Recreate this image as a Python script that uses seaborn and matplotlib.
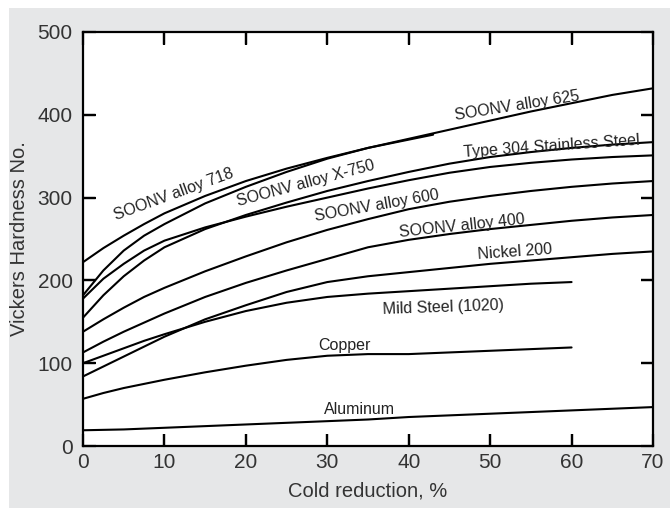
import matplotlib
matplotlib.use("Agg")
import matplotlib.pyplot as plt
from matplotlib.patches import Rectangle
from matplotlib.lines import Line2D
import seaborn as sns
import pandas as pd

sns.set_theme(style="ticks")
plt.rcParams['font.family'] = ['Liberation Sans', 'DejaVu Sans']
plt.rcParams.update({
    "axes.axisbelow": False,
    "xtick.direction": "in", "ytick.direction": "in",
    "xtick.color": "black", "ytick.color": "black",
    "xtick.labelcolor": "#333333", "ytick.labelcolor": "#333333",
})

# ---- data ----
x_full = [0, 2.5, 5, 7.5, 10, 15, 20, 25, 30, 35, 40, 45, 50, 55, 60, 65, 70]
x_60 = [0, 2.5, 5, 7.5, 10, 15, 20, 25, 30, 35, 40, 45, 50, 55, 60]
x_718 = [0, 2.5, 5, 7.5, 10, 15, 20, 25, 30, 35, 40, 43]

alloy_718 = [222, 239, 254, 268, 281, 302, 320, 335, 348, 360, 370, 376]
alloy_625 = [182, 212, 236, 254, 268, 293, 313, 331, 347, 360, 371, 382, 393, 404, 414, 424, 432]
alloy_x750 = [178, 202, 220, 236, 248, 264, 277, 289, 300, 311, 321, 330, 337, 342, 346, 349, 351]
ss_304 = [155, 182, 205, 224, 240, 262, 279, 294, 308, 320, 331, 341, 349, 355, 360, 364, 367]
alloy_600 = [138, 153, 167, 180, 191, 211, 229, 246, 261, 274, 286, 295, 302, 308, 313, 317, 320]
alloy_400 = [113, 126, 138, 149, 160, 180, 197, 212, 226, 240, 249, 256, 262, 267, 272, 276, 279]
nickel_200 = [84, 96, 108, 120, 132, 153, 170, 186, 198, 205, 210, 215, 220, 224, 228, 232, 235]
mild_steel = [100, 109, 118, 127, 135, 150, 163, 173, 180, 184, 187, 190, 193, 196, 198]
copper = [57, 64, 70, 75, 80, 89, 97, 104, 109, 111, 111, 113, 115, 117, 119]
aluminum = [19, 19.5, 20, 21, 22, 24, 26, 28, 30, 32, 35, 37, 39, 41, 43, 45, 47]

series = [
    ("SOONV alloy 718", x_718, alloy_718),
    ("SOONV alloy 625", x_full, alloy_625),
    ("SOONV alloy X-750", x_full, alloy_x750),
    ("Type 304 Stainless Steel", x_full, ss_304),
    ("SOONV alloy 600", x_full, alloy_600),
    ("SOONV alloy 400", x_full, alloy_400),
    ("Nickel 200", x_full, nickel_200),
    ("Mild Steel (1020)", x_60, mild_steel),
    ("Copper", x_60, copper),
    ("Aluminum", x_full, aluminum),
]

# label positions (data coords) and rotation
labels = {
    "SOONV alloy 718": (11.2, 304, 20),
    "SOONV alloy X-750": (27.3, 317, 15),
    "SOONV alloy 625": (53.3, 411, 9),
    "Type 304 Stainless Steel": (57.6, 362, 4),
    "SOONV alloy 600": (36.1, 290, 10),
    "SOONV alloy 400": (46.6, 266, 6),
    "Nickel 200": (53.0, 234, 4),
    "Mild Steel (1020)": (44.2, 168, 2),
    "Copper": (32.1, 121, 0),
    "Aluminum": (34.0, 44, 0),
}

x_ticks = [0, 10, 20, 30, 40, 50, 60, 70]
y_ticks = [0, 100, 200, 300, 400, 500]

rows = []
for name, xs, ys in series:
    for xv, yv in zip(xs, ys):
        rows.append({"material": name, "reduction": xv, "hardness": yv})
df = pd.DataFrame(rows)

fig = plt.figure(figsize=(6.7, 5.08), dpi=100, facecolor="white")
bg = Rectangle((9 / 670, 0), 1 - 9 / 670, 500 / 508,
               transform=fig.transFigure, facecolor="#e6e7e8",
               edgecolor="none", zorder=-10)
fig.add_artist(bg)
ax_left, ax_bottom, ax_w, ax_h = 83 / 670, 1 - 446 / 508, 570 / 670, 414 / 508
ax = fig.add_axes([ax_left, ax_bottom, ax_w, ax_h])
ax.set_facecolor("white")

sns.lineplot(data=df, x="reduction", y="hardness", hue="material",
             palette=["black"] * len(series), sort=False, estimator=None,
             legend=False, linewidth=1.5, ax=ax)

for name, (lx, ly, rot) in labels.items():
    ax.text(lx, ly, name, ha="center", va="center", rotation=rot,
            rotation_mode="anchor", fontsize=11.5, color="#222222")

x_lo, x_hi = x_ticks[0], x_ticks[-1]
y_lo, y_hi = y_ticks[0], y_ticks[-1]
ax.set_xlim(x_lo, x_hi)
ax.set_ylim(y_lo, y_hi)
ax.set_xticks(x_ticks)
ax.set_yticks(y_ticks)
ax.tick_params(axis="x", direction="in", length=9, width=1.6, color="black",
               top=True, bottom=True, labelsize=15, labelcolor="#333333", pad=5)
ax.tick_params(axis="y", direction="in", length=9, width=1.6, color="black",
               left=True, right=True, labelsize=15, labelcolor="#333333", pad=7.5)

# inward tick marks as figure-level segments (about 12 px long)
tl_fx = 12 / 670
tl_fy = 12 / 508
for xv in x_ticks[1:-1]:
    fx = ax_left + ax_w * (xv - x_lo) / (x_hi - x_lo)
    fig.add_artist(Line2D([fx, fx], [ax_bottom, ax_bottom + tl_fy],
                          transform=fig.transFigure, color="black",
                          linewidth=1.6, solid_capstyle="butt", zorder=20))
    fig.add_artist(Line2D([fx, fx], [ax_bottom + ax_h - tl_fy, ax_bottom + ax_h],
                          transform=fig.transFigure, color="black",
                          linewidth=1.6, solid_capstyle="butt", zorder=20))
for yv in y_ticks[1:-1]:
    fy = ax_bottom + ax_h * (yv - y_lo) / (y_hi - y_lo)
    fig.add_artist(Line2D([ax_left, ax_left + tl_fx], [fy, fy],
                          transform=fig.transFigure, color="black",
                          linewidth=1.6, solid_capstyle="butt", zorder=20))
    fig.add_artist(Line2D([ax_left + ax_w - tl_fx, ax_left + ax_w], [fy, fy],
                          transform=fig.transFigure, color="black",
                          linewidth=1.6, solid_capstyle="butt", zorder=20))

for s in ax.spines.values():
    s.set_color("black")
    s.set_linewidth(1.6)
    s.set_visible(True)

ax.set_xlabel("Cold reduction, %", fontsize=14.5, color="#333333", labelpad=7)
ax.set_ylabel("Vickers Hardness No.", fontsize=14.5, color="#333333", labelpad=6)

fig.savefig("out.png", dpi=100, facecolor=fig.get_facecolor())
